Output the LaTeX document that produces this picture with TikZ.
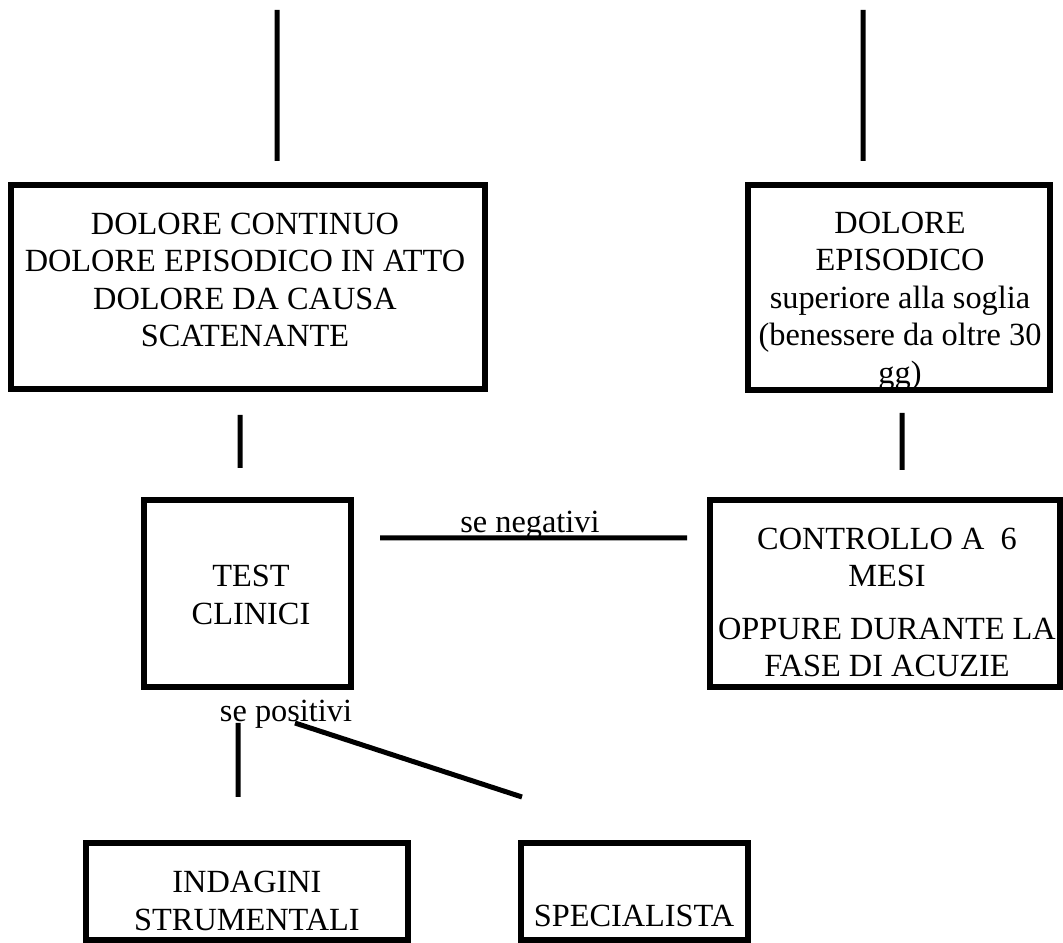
\documentclass[tikz,border=0pt]{standalone}
\usepackage{fontspec}
\setmainfont{Liberation Serif}
\usepackage{tikz}

\begin{document}
\begin{tikzpicture}[
		flow box/.style = {draw, line width=0.12cm, inner sep=0pt},
		link line/.style = {line width=0.1cm},
		box text/.style = {align=center, inner sep=0pt, font=\fontsize{18.4}{21.34}\selectfont},
	]
	\useasboundingbox (0, 0) rectangle (21.26, -18.86);
	% upper boxes
	\node[flow box, minimum width=9.48cm, minimum height=4.08cm] (continuo) at (4.96, -5.74) {};
	\node[box text] (continuo text) at (4.9, -5.6)
		{DOLORE CONTINUO\\DOLORE EPISODICO IN ATTO\\DOLORE DA CAUSA\\SCATENANTE};
	\node[flow box, minimum width=6.04cm, minimum height=4.1cm] (episodico) at (17.98, -5.75) {};
	\node[box text] (episodico text) at (18.0, -6.02)
		{DOLORE\\EPISODICO\\superiore alla soglia\\(benessere da oltre 30\\gg)};
	% middle boxes
	\node[flow box, minimum width=4.14cm, minimum height=3.74cm] (test) at (4.94, -11.87) {};
	\node[box text] (test text) at (5.02, -11.9) {TEST\\CLINICI};
	\node[flow box, minimum width=7cm, minimum height=3.74cm] (controllo) at (17.7, -11.87) {};
	\node[box text] (controllo text) at (17.74, -12.05)
		{CONTROLLO A~~6\\MESI\\[0.3cm]OPPURE DURANTE LA\\FASE DI ACUZIE};
	% lower boxes
	\node[flow box, minimum width=6.44cm, minimum height=1.94cm] (indagini) at (4.94, -17.83) {};
	\node[box text] (indagini text) at (4.94, -18.02) {INDAGINI\\STRUMENTALI};
	\node[flow box, minimum width=4.54cm, minimum height=1.94cm] (specialista) at (12.69, -17.83) {};
	\node[box text, anchor=base] (specialista text) at (12.68, -18.54) {SPECIALISTA};
	% line labels
	\node[box text, anchor=base] (negativi) at (10.6, -10.66) {se negativi};
	\node[box text, anchor=base] (positivi) at (5.72, -14.44) {se positivi};
	% line ends
	\coordinate (top left a) at (5.54, -0.2);
	\coordinate (top left b) at (5.54, -3.22);
	\coordinate (top right a) at (17.26, -0.2);
	\coordinate (top right b) at (17.26, -3.22);
	\coordinate (mid left a) at (4.8, -8.3);
	\coordinate (mid left b) at (4.8, -9.36);
	\coordinate (mid right a) at (18.04, -8.26);
	\coordinate (mid right b) at (18.04, -9.4);
	\coordinate (neg a) at (7.6, -10.76);
	\coordinate (neg b) at (13.74, -10.76);
	\coordinate (pos a) at (4.76, -14.46);
	\coordinate (pos b) at (4.76, -15.94);
	\coordinate (spec a) at (5.9, -14.46);
	\coordinate (spec b) at (10.44, -15.94);
	% lines
	\draw[link line]
		(top left a) -- (top left b)
		(top right a) -- (top right b)
		(mid left a) -- (mid left b)
		(mid right a) -- (mid right b)
		(neg a) -- (neg b)
		(pos a) -- (pos b)
		(spec a) -- (spec b);
\end{tikzpicture}
\end{document}
